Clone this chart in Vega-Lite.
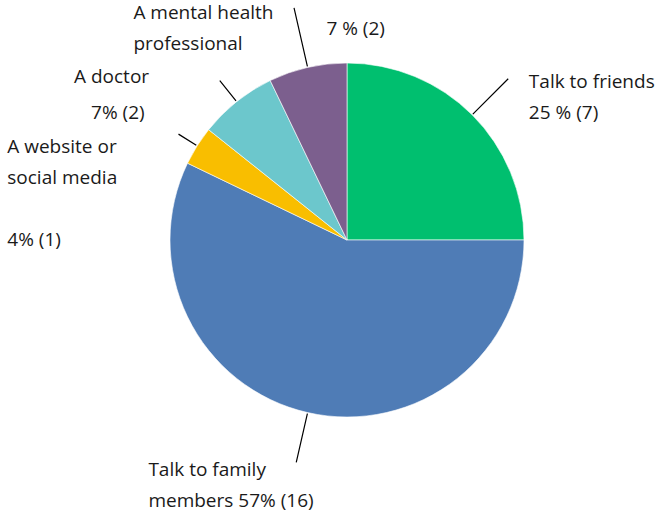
{
  "$schema": "https://vega.github.io/schema/vega-lite/v6.json",
  "width": 354,
  "height": 354,
  "autosize": {"type": "none"},
  "padding": {"left": 170, "top": 63, "right": 132, "bottom": 95},
  "background": "white",
  "config": {
    "view": {"stroke": null},
    "text": {"font": "Open Sans", "fontSize": 19, "color": "#1a1a1a"}
  },
  "data": {
    "values": [
      {"cat": "Talk to friends", "n": 7, "label": "Talk to friends", "value": "25 % (7)"},
      {"cat": "Talk to family members", "n": 16, "label": "Talk to family\nmembers 57% (16)", "value": ""},
      {"cat": "A website or social media", "n": 1, "label": "A website or\nsocial media", "value": "4% (1)"},
      {"cat": "A doctor", "n": 2, "label": "A doctor", "value": "7% (2)"},
      {"cat": "A mental health professional", "n": 2, "label": "A mental health\nprofessional", "value": "7 % (2)"}
    ]
  },
  "transform": [{"window": [{"op": "row_number", "as": "idx"}]}],
  "resolve": {"scale": {"theta": "independent"}},
  "layer": [
    {
      "mark": {"type": "arc", "stroke": "#ffffff", "strokeWidth": 0.6},
      "encoding": {
        "theta": {"field": "n", "type": "quantitative", "stack": true},
        "order": {"field": "idx", "type": "quantitative"},
        "color": {
          "field": "cat", "type": "nominal", "legend": null,
          "scale": {
            "domain": ["Talk to friends", "Talk to family members", "A website or social media", "A doctor", "A mental health professional"],
            "range": ["#00BF6F", "#4F7CB6", "#F9BE00", "#6CC7CC", "#7C5F8E"]
          }
        }
      }
    },
    {
      "mark": {"type": "arc", "radius": 228, "radius2": 178, "padAngle": 1.5, "fillOpacity": 0, "stroke": "#000000", "strokeWidth": 1.2},
      "encoding": {
        "theta": {"field": "n", "type": "quantitative", "stack": true},
        "order": {"field": "idx", "type": "quantitative"},
        "strokeOpacity": {"condition": {"test": "datum.cat === 'Talk to friends'", "value": 1}, "value": 0}
      }
    },
    {
      "mark": {"type": "arc", "radius": 228, "radius2": 178, "padAngle": 1.5, "fillOpacity": 0, "stroke": "#000000", "strokeWidth": 1.2},
      "encoding": {
        "theta": {"field": "n", "type": "quantitative", "stack": true, "scale": {"range": [2.8973, 3.7723]}},
        "order": {"field": "idx", "type": "quantitative"},
        "strokeOpacity": {"condition": {"test": "datum.cat === 'Talk to family members'", "value": 1}, "value": 0}
      }
    },
    {
      "mark": {"type": "arc", "radius": 199, "radius2": 178, "padAngle": 1.5, "fillOpacity": 0, "stroke": "#000000", "strokeWidth": 1.2},
      "encoding": {
        "theta": {"field": "n", "type": "quantitative", "stack": true},
        "order": {"field": "idx", "type": "quantitative"},
        "strokeOpacity": {"condition": {"test": "datum.cat === 'A website or social media'", "value": 1}, "value": 0}
      }
    },
    {
      "mark": {"type": "arc", "radius": 204, "radius2": 178, "padAngle": 1.5, "fillOpacity": 0, "stroke": "#000000", "strokeWidth": 1.2},
      "encoding": {
        "theta": {"field": "n", "type": "quantitative", "stack": true},
        "order": {"field": "idx", "type": "quantitative"},
        "strokeOpacity": {"condition": {"test": "datum.cat === 'A doctor'", "value": 1}, "value": 0}
      }
    },
    {
      "mark": {"type": "arc", "radius": 238, "radius2": 178, "padAngle": 1.5, "fillOpacity": 0, "stroke": "#000000", "strokeWidth": 1.2},
      "encoding": {
        "theta": {"field": "n", "type": "quantitative", "stack": true},
        "order": {"field": "idx", "type": "quantitative"},
        "strokeOpacity": {"condition": {"test": "datum.cat === 'A mental health professional'", "value": 1}, "value": 0}
      }
    },
    {
      "mark": {"type": "text", "radius": 178, "dx": 56, "dy": -26, "align": "left", "baseline": "alphabetic", "lineBreak": "\n", "lineHeight": 31},
      "encoding": {
        "theta": {"field": "n", "type": "quantitative", "stack": true},
        "order": {"field": "idx", "type": "quantitative"},
        "text": {"condition": {"test": "datum.cat === 'Talk to friends'", "field": "label"}, "value": ""}
      }
    },
    {
      "mark": {"type": "text", "radius": 178, "dx": 56, "dy": 5, "align": "left", "baseline": "alphabetic"},
      "encoding": {
        "theta": {"field": "n", "type": "quantitative", "stack": true},
        "order": {"field": "idx", "type": "quantitative"},
        "text": {"condition": {"test": "datum.cat === 'Talk to friends'", "field": "value"}, "value": ""}
      }
    },
    {
      "mark": {"type": "text", "radius": 178, "dx": -159, "dy": 62.5, "align": "left", "baseline": "alphabetic", "lineBreak": "\n", "lineHeight": 31},
      "encoding": {
        "theta": {"field": "n", "type": "quantitative", "stack": true},
        "order": {"field": "idx", "type": "quantitative"},
        "text": {"condition": {"test": "datum.cat === 'Talk to family members'", "field": "label"}, "value": ""}
      }
    },
    {
      "mark": {"type": "text", "radius": 178, "dx": -189, "dy": 8, "align": "left", "baseline": "alphabetic", "lineBreak": "\n", "lineHeight": 31},
      "encoding": {
        "theta": {"field": "n", "type": "quantitative", "stack": true},
        "order": {"field": "idx", "type": "quantitative"},
        "text": {"condition": {"test": "datum.cat === 'A website or social media'", "field": "label"}, "value": ""}
      }
    },
    {
      "mark": {"type": "text", "radius": 178, "dx": -189, "dy": 101, "align": "left", "baseline": "alphabetic"},
      "encoding": {
        "theta": {"field": "n", "type": "quantitative", "stack": true},
        "order": {"field": "idx", "type": "quantitative"},
        "text": {"condition": {"test": "datum.cat === 'A website or social media'", "field": "value"}, "value": ""}
      }
    },
    {
      "mark": {"type": "text", "radius": 178, "dx": -162, "dy": -18, "align": "left", "baseline": "alphabetic"},
      "encoding": {
        "theta": {"field": "n", "type": "quantitative", "stack": true},
        "order": {"field": "idx", "type": "quantitative"},
        "text": {"condition": {"test": "datum.cat === 'A doctor'", "field": "label"}, "value": ""}
      }
    },
    {
      "mark": {"type": "text", "radius": 178, "dx": -145, "dy": 18, "align": "left", "baseline": "alphabetic"},
      "encoding": {
        "theta": {"field": "n", "type": "quantitative", "stack": true},
        "order": {"field": "idx", "type": "quantitative"},
        "text": {"condition": {"test": "datum.cat === 'A doctor'", "field": "value"}, "value": ""}
      }
    },
    {
      "mark": {"type": "text", "radius": 178, "dx": -174, "dy": -47.5, "align": "left", "baseline": "alphabetic", "lineBreak": "\n", "lineHeight": 31},
      "encoding": {
        "theta": {"field": "n", "type": "quantitative", "stack": true},
        "order": {"field": "idx", "type": "quantitative"},
        "text": {"condition": {"test": "datum.cat === 'A mental health professional'", "field": "label"}, "value": ""}
      }
    },
    {
      "mark": {"type": "text", "radius": 178, "dx": 19, "dy": -31.5, "align": "left", "baseline": "alphabetic"},
      "encoding": {
        "theta": {"field": "n", "type": "quantitative", "stack": true},
        "order": {"field": "idx", "type": "quantitative"},
        "text": {"condition": {"test": "datum.cat === 'A mental health professional'", "field": "value"}, "value": ""}
      }
    }
  ]
}
